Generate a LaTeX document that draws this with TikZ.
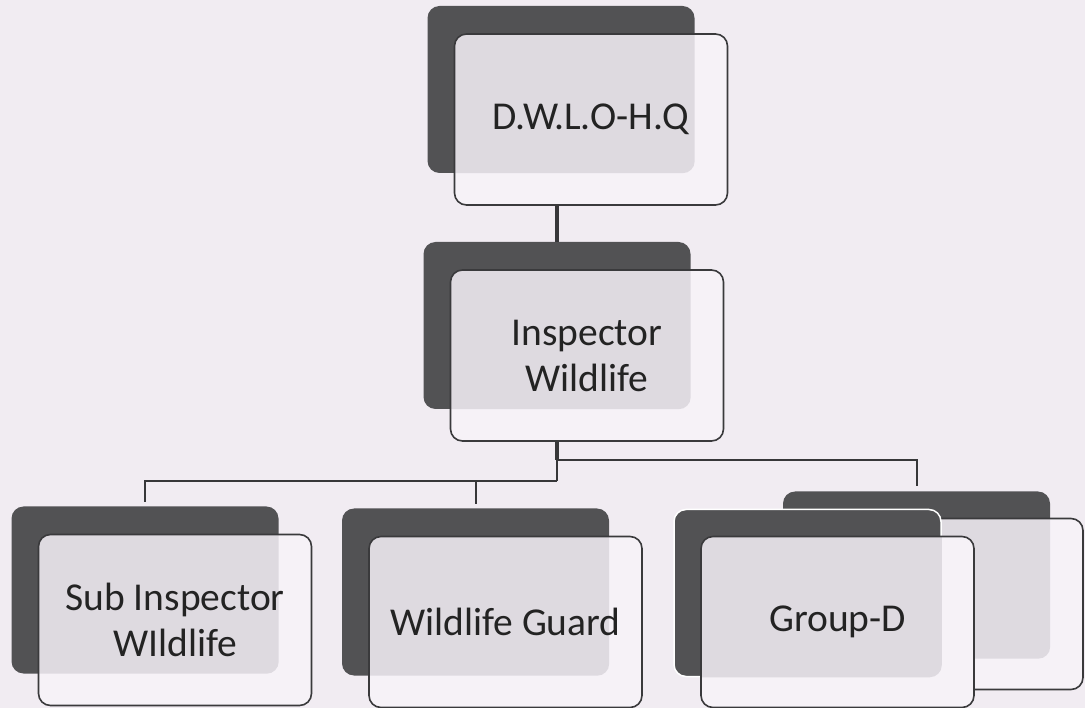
\documentclass[tikz,border=0pt]{standalone}
\usepackage{fontspec}
\setmainfont{Carlito}
\definecolor{bgc}{RGB}{241,236,242}
\definecolor{darkc}{RGB}{82,82,84}
\definecolor{overlapc}{RGB}{222,218,224}
\definecolor{frontc}{RGB}{246,242,247}
\definecolor{edgec}{RGB}{58,58,60}
\definecolor{linec}{RGB}{55,55,57}
\definecolor{textc}{RGB}{35,35,35}
\begin{document}
\begin{tikzpicture}[x=1pt,y=-1pt,
  backbox/.style={fill=darkc, rounded corners=12pt, minimum width=267pt, minimum height=167pt, inner sep=0pt},
  frontbox/.style={draw=edgec, line width=1.6pt, fill=frontc, rounded corners=12pt,
    minimum width=273pt, minimum height=171pt, inner sep=0pt, align=center,
    font=\fontsize{39.5}{46}\selectfont, text=textc,
    path picture={\fill[overlapc, rounded corners=12pt] (#1.south west) rectangle (#1.north east);}},
  conn/.style={draw=linec, line width=2pt},
  thickconn/.style={draw=linec, line width=3.5pt}]
\fill[bgc] (0,0) rectangle (1085,708);
\useasboundingbox (0,0) rectangle (1085,708);

% top
\node[backbox] (hqb) at (561,89.5) {};
\node[frontbox=hqb] (hq) at (591,119.5) {\raisebox{-3pt}{D.W.L.O-H.Q}};
% second
\node[backbox] (iwb) at (557,325.5) {};
\node[frontbox=iwb] (iw) at (587,355.5) {Inspector\\Wildlife};
% sub inspector
\node[backbox] (sib) at (145,590) {};
\node[frontbox=sib] (si) at (175,620) {Sub Inspector\\WIldlife};
% guard
\node[backbox] (wgb) at (475.5,592) {};
\node[frontbox=wgb] (wg) at (505.5,622) {Wildlife Guard};
% group D back copy
\node[backbox] (gbb) at (916.5,575) {};
\node[frontbox=gbb] (gbf) at (946.5,604) {};
% group D front
\node[backbox, draw=white, line width=1.5pt] (gdb) at (807.5,593) {};
\node[frontbox=gdb] (gd) at (837.5,622) {Group-D};

% connectors
\coordinate (j1) at (557,460);
\coordinate (j2) at (557,481);
\draw[thickconn] (iwb.north |- hq.south) -- (iwb.north);
\draw[thickconn] (iwb.north |- iw.south) -- (j1);
\draw[conn] (j1) -- (j2);
\draw[conn, shorten >=5pt] (j1) -| (gbb.north);
\draw[conn, shorten >=4pt] (j2) -| (sib.north);
\draw[conn, shorten >=4pt] (wgb.north |- j2) -- (wgb.north);
\end{tikzpicture}
\end{document}
